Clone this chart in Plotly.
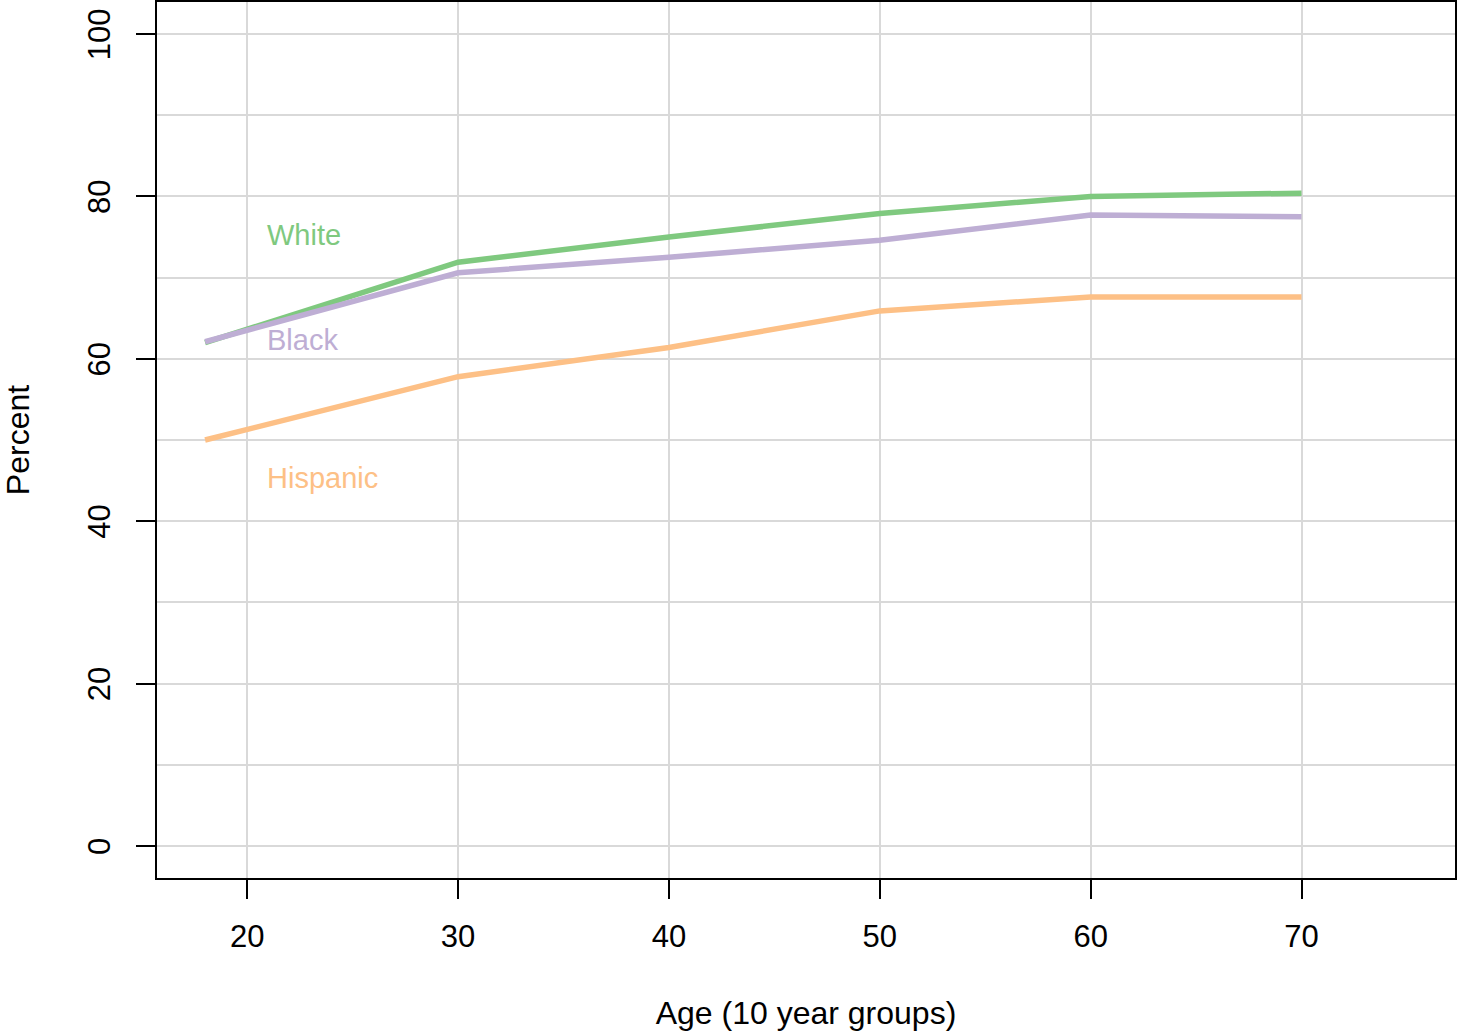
import plotly.graph_objects as go

ages = [18, 30, 40, 50, 60, 70]
white = [62.0, 71.9, 75.0, 77.9, 80.0, 80.4]
black = [62.1, 70.6, 72.5, 74.6, 77.7, 77.5]
hispanic = [50.0, 57.8, 61.4, 65.9, 67.6, 67.6]

series_names = ["White", "Black", "Hispanic"]
series_values = [white, black, hispanic]
colors = ["#7FC97F", "#BEAED4", "#FDC086"]
label_x = [20.85, 20.85, 20.85]
label_y = [75.2, 62.3, 45.3]

fig = go.Figure()
for name, vals, col in zip(series_names, series_values, colors):
    fig.add_trace(go.Scatter(x=ages, y=vals, mode="lines", name=name,
                             line=dict(color=col, width=5.5), showlegend=False))

for name, lx, ly, col in zip(series_names, label_x, label_y, colors):
    fig.add_annotation(x=lx, y=ly, text=name, showarrow=False, xanchor="left",
                       yanchor="middle", font=dict(color=col, size=29))

font_family = "Liberation Sans, Arial, sans-serif"
fig.update_layout(
    width=1463, height=1033,
    margin=dict(l=157, r=8, t=2, b=155),
    plot_bgcolor="white", paper_bgcolor="white",
    font=dict(family=font_family, size=31, color="black"),
    xaxis=dict(range=[15.72, 77.28], tickmode="array", tickvals=[20, 30, 40, 50, 60, 70],
               showgrid=True, gridcolor="#D9D9D9", gridwidth=2,
               showline=True, linecolor="black", linewidth=2, mirror=True,
               ticks="outside", ticklen=19, tickwidth=2, tickcolor="black",
               zeroline=False, automargin=False,
               tickfont=dict(size=31),
               title=dict(text="Age (10 year groups)", standoff=48, font=dict(size=32)),
               ticklabelstandoff=11),
    yaxis=dict(range=[-3.94, 103.94], tickmode="array", tickvals=[0, 20, 40, 60, 80, 100],
               showgrid=True, gridcolor="#D9D9D9", gridwidth=2,
               minor=dict(tickmode="array", tickvals=[10, 30, 50, 70, 90], showgrid=True,
                          gridcolor="#D9D9D9", gridwidth=2, ticks=""),
               showline=True, linecolor="black", linewidth=2, mirror=True,
               ticks="outside", ticklen=19, tickwidth=2, tickcolor="black",
               zeroline=False, tickangle=-90, automargin=False,
               tickfont=dict(size=31),
               title=dict(text="Percent", standoff=44, font=dict(size=32)),
               ticklabelstandoff=14, ticklabelshift=5),
)

fig.write_html("out.html", config={"displayModeBar": False},
               post_script="document.body.style.margin='0';")
